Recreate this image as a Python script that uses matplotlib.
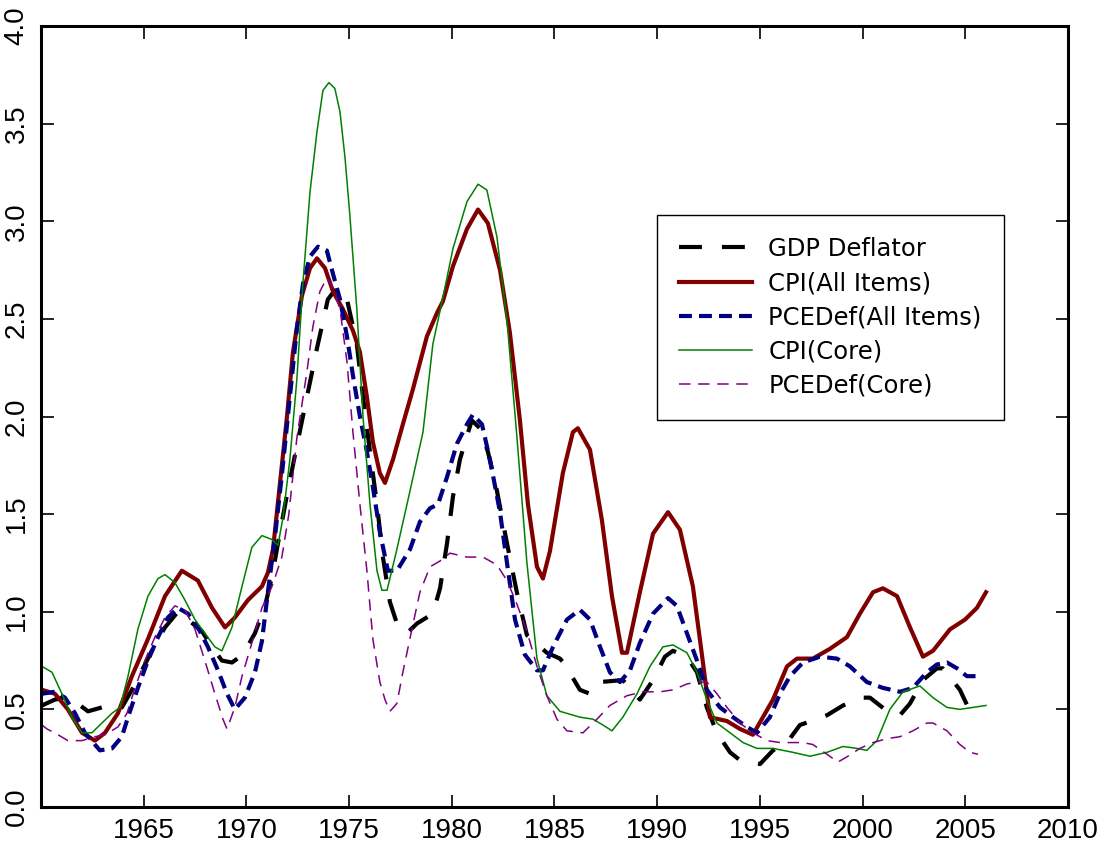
import matplotlib
matplotlib.use("Agg")
import matplotlib.pyplot as plt

# values (year, ratio)
cpi_all_yr = [1960.05, 1960.68, 1961.31, 1962.0, 1962.63, 1963.12, 1963.75, 1964.43, 1965.21,
              1966.04, 1966.86, 1967.64, 1968.33, 1968.96, 1969.44, 1970.08, 1970.76, 1971.05,
              1971.3, 1971.64, 1971.98, 1972.27, 1972.71, 1973.1, 1973.44, 1973.83, 1974.22,
              1974.7, 1975.19, 1975.53, 1975.87, 1976.16, 1976.5, 1976.75, 1977.14, 1977.62,
              1978.11, 1978.79, 1979.28, 1979.57, 1980.06, 1980.74, 1981.28, 1981.76, 1982.35,
              1982.83, 1983.32, 1983.71, 1984.15, 1984.44, 1984.78, 1985.41, 1985.9, 1986.14,
              1986.73, 1987.31, 1987.8, 1988.29, 1988.53, 1989.16, 1989.8, 1990.53, 1991.11,
              1991.74, 1992.23, 1992.57, 1993.4, 1994.03, 1994.66, 1995.64, 1996.32, 1996.81,
              1997.58, 1998.41, 1999.24, 1999.87, 2000.51, 2000.99, 2001.68, 2002.31, 2002.94,
              2003.43, 2004.26, 2004.99, 2005.57, 2006.01]
cpi_all = [0.60, 0.58, 0.50, 0.38, 0.34, 0.38, 0.48, 0.67, 0.86,
           1.08, 1.21, 1.16, 1.02, 0.92, 0.97, 1.06, 1.13, 1.20,
           1.32, 1.66, 2.00, 2.33, 2.62, 2.76, 2.81, 2.76, 2.64,
           2.55, 2.44, 2.33, 2.10, 1.87, 1.71, 1.66, 1.78, 1.96,
           2.14, 2.41, 2.53, 2.59, 2.77, 2.96, 3.06, 2.99, 2.75,
           2.43, 1.98, 1.55, 1.23, 1.17, 1.31, 1.71, 1.92, 1.94,
           1.83, 1.47, 1.08, 0.79, 0.79, 1.10, 1.40, 1.51, 1.42,
           1.13, 0.74, 0.46, 0.44, 0.40, 0.37, 0.55, 0.72, 0.76,
           0.76, 0.81, 0.87, 0.99, 1.10, 1.12, 1.08, 0.92, 0.77,
           0.80, 0.91, 0.96, 1.02, 1.10]

cpi_core_yr = [1960.05, 1960.54, 1961.02, 1961.51, 1962.0, 1962.48, 1962.97, 1963.46, 1963.85,
               1964.24, 1964.72, 1965.21, 1965.7, 1966.04, 1966.52, 1967.01, 1967.5, 1967.98,
               1968.47, 1968.81, 1969.3, 1969.79, 1970.27, 1970.76, 1971.25, 1971.54, 1971.78,
               1972.12, 1972.46, 1972.76, 1973.1, 1973.44, 1973.73, 1974.02, 1974.31, 1974.56,
               1974.8, 1975.04, 1975.38, 1975.68, 1976.02, 1976.36, 1976.6, 1976.85, 1977.33,
               1977.97, 1978.6, 1979.08, 1979.57, 1980.06, 1980.74, 1981.28, 1981.71, 1982.2,
               1982.69, 1983.17, 1983.66, 1984.15, 1984.63, 1985.27, 1986.24, 1986.87, 1987.36,
               1987.8, 1988.33, 1989.02, 1989.65, 1990.28, 1990.77, 1991.45, 1991.94, 1992.42,
               1992.91, 1993.55, 1994.18, 1994.86, 1995.64, 1996.61, 1997.44, 1998.27, 1999.05,
               1999.73, 2000.21, 2000.7, 2001.33, 2001.97, 2002.79, 2003.43, 2004.11, 2004.74,
               2005.37, 2006.01]
cpi_core = [0.72, 0.69, 0.58, 0.46, 0.38, 0.38, 0.43, 0.48, 0.51,
            0.67, 0.91, 1.08, 1.17, 1.19, 1.15, 1.06, 0.96, 0.89,
            0.82, 0.80, 0.92, 1.13, 1.33, 1.39, 1.37, 1.34, 1.48,
            1.78, 2.19, 2.69, 3.15, 3.46, 3.67, 3.71, 3.68, 3.56,
            3.33, 3.03, 2.55, 2.00, 1.55, 1.21, 1.11, 1.11, 1.32,
            1.62, 1.92, 2.37, 2.61, 2.86, 3.10, 3.19, 3.16, 2.92,
            2.49, 1.90, 1.25, 0.76, 0.57, 0.49, 0.46, 0.45, 0.42,
            0.39, 0.46, 0.58, 0.72, 0.82, 0.83, 0.79, 0.69, 0.55,
            0.43, 0.38, 0.33, 0.30, 0.30, 0.28, 0.26, 0.28, 0.31,
            0.30, 0.29, 0.34, 0.50, 0.59, 0.62, 0.56, 0.51, 0.50,
            0.51, 0.52]

pce_all_yr = [1960.05, 1960.68, 1961.17, 1961.66, 1962.14, 1962.87, 1963.46, 1963.94, 1964.24,
              1964.72, 1965.21, 1965.7, 1966.18, 1966.67, 1967.16, 1967.64, 1968.13, 1968.62,
              1969.06, 1969.44, 1969.93, 1970.42, 1970.76, 1971.05, 1971.39, 1971.73, 1972.12,
              1972.46, 1972.76, 1973.1, 1973.49, 1973.92, 1974.22, 1974.56, 1974.9, 1975.19,
              1975.53, 1975.87, 1976.16, 1976.5, 1976.89, 1977.33, 1977.97, 1978.45, 1978.94,
              1979.33, 1979.77, 1980.25, 1980.74, 1981.03, 1981.47, 1981.86, 1982.35, 1982.69,
              1983.08, 1983.56, 1984.15, 1984.44, 1984.93, 1985.61, 1986.24, 1986.73, 1987.22,
              1987.7, 1988.19, 1988.68, 1989.16, 1989.8, 1990.53, 1990.96, 1991.45, 1991.94,
              1992.42, 1993.06, 1993.69, 1994.37, 1994.86, 1995.49, 1995.98, 1996.47, 1997.1,
              1997.93, 1998.75, 1999.39, 2000.21, 2000.99, 2001.82, 2002.45, 2003.13, 2003.62,
              2004.11, 2004.6, 2005.08, 2005.62]
pce_all = [0.58, 0.59, 0.56, 0.48, 0.38, 0.29, 0.30, 0.36, 0.46,
           0.61, 0.75, 0.87, 0.97, 1.02, 0.99, 0.92, 0.82, 0.70,
           0.58, 0.50, 0.56, 0.69, 0.85, 1.10, 1.38, 1.70, 2.10,
           2.45, 2.68, 2.82, 2.87, 2.85, 2.73, 2.60, 2.41, 2.21,
           2.00, 1.82, 1.64, 1.41, 1.21, 1.21, 1.32, 1.46, 1.53,
           1.55, 1.69, 1.86, 1.96, 2.01, 1.96, 1.78, 1.51, 1.25,
           0.96, 0.78, 0.70, 0.70, 0.82, 0.96, 1.01, 0.96, 0.82,
           0.69, 0.64, 0.70, 0.84, 0.99, 1.07, 1.03, 0.89, 0.75,
           0.60, 0.51, 0.46, 0.41, 0.38, 0.46, 0.58, 0.67, 0.74,
           0.77, 0.76, 0.72, 0.64, 0.61, 0.59, 0.61, 0.69, 0.73,
           0.74, 0.71, 0.67, 0.67]

gdp_yr = [1960.05, 1960.68, 1961.17, 1961.66, 1962.29, 1962.97, 1963.46, 1963.94, 1964.43,
          1964.92, 1965.4, 1966.04, 1966.67, 1967.16, 1967.84, 1968.33, 1968.81, 1969.3,
          1969.83, 1970.42, 1970.91, 1971.25, 1971.54, 1971.98, 1972.46, 1972.95, 1973.44,
          1973.97, 1974.41, 1974.9, 1975.38, 1975.68, 1976.02, 1976.36, 1976.65, 1976.99,
          1977.33, 1977.82, 1978.31, 1979.08, 1979.43, 1979.77, 1980.06, 1980.4, 1980.74,
          1980.98, 1981.37, 1981.76, 1982.2, 1982.69, 1983.17, 1983.66, 1984.63, 1985.27,
          1985.51, 1986.24, 1986.73, 1987.22, 1988.33, 1989.16, 1989.8, 1990.38, 1990.77,
          1991.45, 1991.94, 1992.42, 1992.91, 1993.55, 1994.03, 1995.01, 1995.64, 1996.32,
          1996.95, 1997.78, 1998.27, 1999.05, 1999.87, 2000.36, 2001.33, 2001.82, 2002.31,
          2002.94, 2003.62, 2003.91, 2004.74, 2005.23]
gdp = [0.52, 0.55, 0.56, 0.54, 0.49, 0.51, 0.51, 0.51, 0.60,
       0.70, 0.80, 0.92, 1.00, 0.96, 0.90, 0.82, 0.75, 0.74,
       0.78, 0.89, 1.03, 1.18, 1.35, 1.60, 1.85, 2.10, 2.35,
       2.60, 2.66, 2.60, 2.37, 2.10, 1.82, 1.55, 1.28, 1.05,
       0.94, 0.89, 0.94, 0.99, 1.12, 1.35, 1.59, 1.78, 1.90,
       1.98, 1.94, 1.82, 1.62, 1.35, 1.10, 0.88, 0.79, 0.76,
       0.73, 0.60, 0.58, 0.64, 0.65, 0.55, 0.65, 0.77, 0.80,
       0.77, 0.69, 0.51, 0.38, 0.28, 0.24, 0.22, 0.29, 0.33,
       0.42, 0.45, 0.47, 0.52, 0.56, 0.56, 0.48, 0.47, 0.53,
       0.65, 0.71, 0.71, 0.60, 0.49]

pce_core_yr = [1960.05, 1960.29, 1960.83, 1961.31, 1962.0, 1962.63, 1963.12, 1963.75, 1964.19,
               1964.58, 1965.06, 1965.55, 1966.04, 1966.52, 1967.01, 1967.5, 1967.98, 1968.47,
               1968.86, 1969.06, 1969.44, 1969.79, 1970.27, 1970.76, 1971.25, 1971.73, 1972.07,
               1972.46, 1972.95, 1973.24, 1973.58, 1973.92, 1974.22, 1974.56, 1974.9, 1975.19,
               1975.53, 1975.87, 1976.16, 1976.5, 1976.75, 1976.99, 1977.33, 1977.62, 1978.06,
               1978.45, 1978.94, 1979.43, 1979.91, 1980.74, 1981.52, 1982.2, 1982.69, 1983.17,
               1983.66, 1984.15, 1984.63, 1985.12, 1985.61, 1986.39, 1987.07, 1987.7, 1988.53,
               1989.31, 1990.14, 1990.77, 1991.45, 1991.94, 1992.42, 1992.91, 1993.4, 1994.03,
               1994.66, 1995.35, 1995.98, 1996.47, 1997.1, 1997.58, 1998.27, 1998.8, 1999.29,
               1999.87, 2000.51, 2001.19, 2001.82, 2002.45, 2003.13, 2003.43, 2004.11, 2004.74,
               2005.23, 2005.62]
pce_core = [0.42, 0.40, 0.37, 0.34, 0.34, 0.36, 0.37, 0.41, 0.48,
            0.61, 0.75, 0.87, 0.97, 1.03, 1.01, 0.91, 0.75, 0.58,
            0.45, 0.40, 0.51, 0.67, 0.84, 1.02, 1.13, 1.28, 1.50,
            1.89, 2.23, 2.46, 2.64, 2.71, 2.66, 2.55, 2.28, 1.92,
            1.55, 1.21, 0.86, 0.64, 0.55, 0.49, 0.53, 0.69, 0.91,
            1.10, 1.23, 1.26, 1.30, 1.28, 1.28, 1.24, 1.16, 1.04,
            0.90, 0.72, 0.57, 0.45, 0.39, 0.38, 0.45, 0.52, 0.57,
            0.59, 0.59, 0.60, 0.63, 0.64, 0.64, 0.58, 0.51, 0.43,
            0.38, 0.34, 0.33, 0.33, 0.33, 0.32, 0.27, 0.23, 0.26,
            0.30, 0.33, 0.35, 0.36, 0.39, 0.43, 0.43, 0.39, 0.32,
            0.28, 0.27]

year_ticks = [1965, 1970, 1975, 1980, 1985, 1990, 1995, 2000, 2005, 2010]
value_ticks = [0.0, 0.5, 1.0, 1.5, 2.0, 2.5, 3.0, 3.5, 4.0]

tick_font = ["Liberation Sans", "DejaVu Sans"]

fig = plt.figure(figsize=(11.06, 8.5), dpi=100)
ax = fig.add_axes([0.037, 0.0506, 0.9286, 0.9188])

ax.plot(gdp_yr, gdp, color="black", lw=3.0, dashes=(5.5, 4.8), label="GDP Deflator")
ax.plot(cpi_all_yr, cpi_all, color="#800000", lw=3.0, label="CPI(All Items)")
ax.plot(pce_all_yr, pce_all, color="#000080", lw=3.0, dashes=(3.1, 1.7), label="PCEDef(All Items)")
ax.plot(cpi_core_yr, cpi_core, color="#008000", lw=1.1, label="CPI(Core)")
ax.plot(pce_core_yr, pce_core, color="#800080", lw=1.1, dashes=(7.5, 5.0), label="PCEDef(Core)")

ax.set_xlim(1960, 2010)
ax.set_ylim(0, 4)
ax.set_xticks(year_ticks)
ax.set_yticks(value_ticks)
ax.set_yticklabels(["%.1f" % v for v in value_ticks], rotation=90, va="center")
ax.tick_params(direction="in", length=9, width=1.2, top=True, right=True,
               labelsize=20, pad=8)
for lab in ax.get_xticklabels() + ax.get_yticklabels():
    lab.set_family(tick_font)
for sp in ax.spines.values():
    sp.set_linewidth(2.2)

leg = ax.legend(loc="upper left", bbox_to_anchor=(0.600, 0.758), fancybox=False,
                edgecolor="black", framealpha=1, fontsize=17.5, handlelength=3.0,
                borderpad=0.9, labelspacing=0.42, handletextpad=0.68, borderaxespad=0)
leg.get_frame().set_linewidth(1.0)

fig.savefig("out.png", dpi=100)
